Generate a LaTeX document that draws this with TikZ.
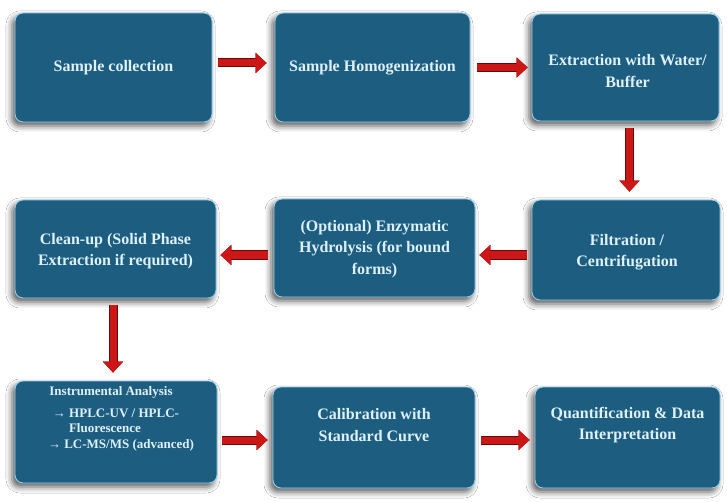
\documentclass[tikz,border=0pt]{standalone}
\usepackage{fontspec}
\setmainfont{Liberation Serif}
\usetikzlibrary{arrows.meta,shadows.blur}

\definecolor{boxblue}{RGB}{29,94,128}
\definecolor{boxedge}{RGB}{150,205,230}
\definecolor{boxtext}{RGB}{222,240,248}
\definecolor{arrowred}{RGB}{205,22,22}
\definecolor{arrowdark}{RGB}{95,12,12}

\tikzset{
  stepbox/.style={draw=boxedge, line width=0.9pt, fill=boxblue, rounded corners=8pt,
    inner sep=0pt,
    blur shadow={shadow xshift=-3pt, shadow yshift=-4pt, shadow blur radius=6pt, shadow opacity=65}},
  lbl/.style={text=boxtext, font=\bfseries\fontsize{16}{21.5}\selectfont, align=center, inner sep=0pt},
  smalllbl/.style={text=boxtext, font=\bfseries\fontsize{13}{15.5}\selectfont, align=center, inner sep=0pt},
  flow/.style={draw=arrowred, line width=7pt,
    -{Triangle[length=11pt,width=20pt,line width=0.1pt,color=arrowred]},
    preaction={draw=arrowdark, line width=9pt,
      -{Triangle[length=11pt,width=20pt,line width=1.6pt,color=arrowdark]}}}
}

\begin{document}
\begin{tikzpicture}[x=1pt,y=1pt]
\useasboundingbox (0,0) rectangle (727,501);
\fill[white] (0,0) rectangle (727,501);

% process steps, first row
\node[stepbox, minimum width=197pt, minimum height=109pt] (b1) at (113.5,433.5) {};
\node[stepbox, minimum width=195pt, minimum height=109pt] (b2) at (372.5,433.5) {};
\node[stepbox, minimum width=187pt, minimum height=107pt] (b3) at (625.5,433.5) {};
% second row
\node[stepbox, minimum width=201pt, minimum height=98pt] (b4) at (115.5,252) {};
\node[stepbox, minimum width=201pt, minimum height=98pt] (b5) at (374.5,253) {};
\node[stepbox, minimum width=188pt, minimum height=100pt] (b6) at (626,251) {};
% third row
\node[stepbox, minimum width=202pt, minimum height=102pt] (b7) at (116,69) {};
\node[stepbox, minimum width=202pt, minimum height=101pt] (b8) at (374,63.5) {};
\node[stepbox, minimum width=185pt, minimum height=101pt] (b9) at (627.5,63.5) {};

% step texts
\node[lbl] (l1) at (113.5,433) {Sample collection};
\node[lbl] (l2) at (372.5,433) {Sample Homogenization};
\node[lbl] (l3) at (627.5,430) {Extraction with Water/\\Buffer};
\node[lbl] (l4) at (115.5,250) {Clean-up (Solid Phase\\Extraction if required)};
\node[lbl] (l5) at (374.5,252) {(Optional) Enzymatic\\Hydrolysis (for bound\\forms)};
\node[lbl] (l6) at (627,249) {Filtration /\\Centrifugation};
\node[smalllbl] (l7) at (115,82) {\hspace*{-8pt}Instrumental Analysis\\[6pt]
  \hspace*{2pt}→ HPLC-UV / HPLC-\\
  \hspace*{-20pt}Fluorescence\\
  \hspace*{12pt}→ LC-MS/MS (advanced)};
\node[lbl] (l8) at (374,76) {Calibration with\\Standard Curve};
\node[lbl] (l9) at (627.5,76) {Quantification \& Data\\Interpretation};

% flow arrows
\draw[flow, shorten <=6pt, shorten >=8pt] ([yshift=4.5pt]b1.east) -- ([yshift=4.5pt]b2.west);
\draw[flow, shorten <=7pt, shorten >=4pt] (b2.east) -- (b3.west);
\draw[flow, shorten <=7pt, shorten >=8pt] ([xshift=4pt]b3.south) -- ([xshift=3.5pt]b6.north);
\draw[flow, shorten <=5pt, shorten >=4pt] ([yshift=-5pt]b6.west) -- ([yshift=-7pt]b5.east);
\draw[flow, shorten <=6pt, shorten >=4pt] ([yshift=-7pt]b5.west) -- ([yshift=-6pt]b4.east);
\draw[flow, shorten <=7pt, shorten >=8pt] ([xshift=-2.5pt]b4.south) -- ([xshift=-3pt]b7.north);
\draw[flow, shorten <=5pt, shorten >=5pt] ([yshift=-8pt]b7.east) -- ([yshift=-2.5pt]b8.west);
\draw[flow, shorten <=6pt, shorten >=5pt] ([yshift=-2.5pt]b8.east) -- ([yshift=-2.5pt]b9.west);
\end{tikzpicture}
\end{document}
